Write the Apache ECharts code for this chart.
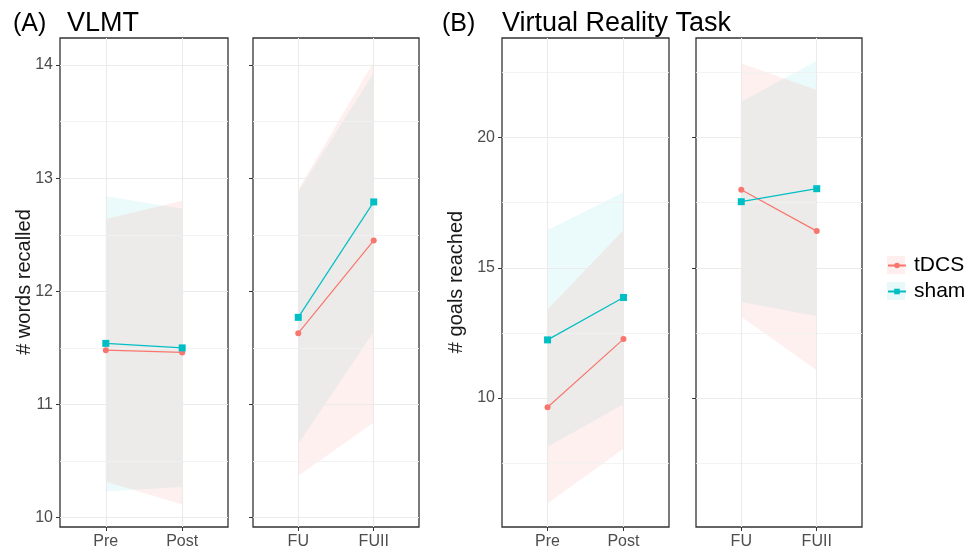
<!DOCTYPE html>
<html><head><meta charset="utf-8">
<script src="https://cdn.jsdelivr.net/npm/echarts@6/dist/echarts.min.js"></script>
<style>html,body{margin:0;padding:0;background:#fff}#c{width:971px;height:556px}</style>
</head><body><div id="c"></div>
<script>
// ---------- data ----------
const groups = ['tDCS', 'sham'];
const catsPrePost = ['Pre', 'Post'];
const catsFollowUp = ['FU', 'FUII'];
const vlmtTicks = [10, 11, 12, 13, 14];
const vlmtGridVals = [10, 10.5, 11, 11.5, 12, 12.5, 13, 13.5, 14];
const vrTicks = [10, 15, 20];
const vrGridVals = [7.5, 10, 12.5, 15, 17.5, 20, 22.5];

// VLMT, Pre / Post
const vlmtTdcsMean1 = [11.48, 11.46];
const vlmtTdcsLo1   = [10.32, 10.115];
const vlmtTdcsHi1   = [12.64, 12.80];
const vlmtShamMean1 = [11.54, 11.50];
const vlmtShamLo1   = [10.23, 10.27];
const vlmtShamHi1   = [12.84, 12.73];
// VLMT, FU / FUII
const vlmtTdcsMean2 = [11.63, 12.45];
const vlmtTdcsLo2   = [10.37, 10.84];
const vlmtTdcsHi2   = [12.90, 14.03];
const vlmtShamMean2 = [11.77, 12.79];
const vlmtShamLo2   = [10.65, 11.64];
const vlmtShamHi2   = [12.88, 13.93];
// Virtual Reality Task, Pre / Post
const vrTdcsMean1 = [9.64, 12.26];
const vrTdcsLo1   = [5.94, 8.05];
const vrTdcsHi1   = [13.40, 16.45];
const vrShamMean1 = [12.23, 13.86];
const vrShamLo1   = [8.12, 9.76];
const vrShamHi1   = [16.45, 17.90];
// Virtual Reality Task, FU / FUII
const vrTdcsMean2 = [18.00, 16.41];
const vrTdcsLo2   = [13.12, 11.06];
const vrTdcsHi2   = [22.86, 21.83];
const vrShamMean2 = [17.54, 18.04];
const vrShamLo2   = [13.69, 13.14];
const vrShamHi2   = [21.38, 22.96];

// ---------- layout / style ----------
const FONT = '"Liberation Sans", Arial, Helvetica, sans-serif';
const COL = { tDCS: '#F8766D', sham: '#00BFC4' };
const FILL = { tDCS: 'rgba(248,118,109,0.11)', sham: 'rgba(0,191,196,0.08)' };
const SYM = { tDCS: 'circle', sham: 'rect' };
const SYMSIZE = { tDCS: 6, sham: 7 };
const gridBoxes = [
  { left: 60, top: 38, width: 168, height: 489 },
  { left: 253, top: 38, width: 166, height: 489 },
  { left: 502, top: 38, width: 167, height: 489 },
  { left: 696, top: 38, width: 166, height: 489 }
];
const vlmtRange = [9.917, 14.239];
const vrRange = [5.04, 23.83];

const panels = [
  { cats: catsPrePost, range: vlmtRange, ticks: vlmtTicks, gridVals: vlmtGridVals, showY: true,
    d: { tDCS: [vlmtTdcsMean1, vlmtTdcsLo1, vlmtTdcsHi1], sham: [vlmtShamMean1, vlmtShamLo1, vlmtShamHi1] } },
  { cats: catsFollowUp, range: vlmtRange, ticks: vlmtTicks, gridVals: vlmtGridVals, showY: false,
    d: { tDCS: [vlmtTdcsMean2, vlmtTdcsLo2, vlmtTdcsHi2], sham: [vlmtShamMean2, vlmtShamLo2, vlmtShamHi2] } },
  { cats: catsPrePost, range: vrRange, ticks: vrTicks, gridVals: vrGridVals, showY: true,
    d: { tDCS: [vrTdcsMean1, vrTdcsLo1, vrTdcsHi1], sham: [vrShamMean1, vrShamLo1, vrShamHi1] } },
  { cats: catsFollowUp, range: vrRange, ticks: vrTicks, gridVals: vrGridVals, showY: false,
    d: { tDCS: [vrTdcsMean2, vrTdcsLo2, vrTdcsHi2], sham: [vrShamMean2, vrShamLo2, vrShamHi2] } }
];

const grid = [], xAxis = [], yAxis = [], series = [];
panels.forEach((p, i) => {
  grid.push(Object.assign({ show: true, borderColor: '#333', borderWidth: 1.3, backgroundColor: 'transparent' }, gridBoxes[i]));
  xAxis.push({
    type: 'value', gridIndex: i, min: 0.4, max: 2.6,
    axisLine: { show: false }, splitLine: { show: false },
    axisTick: { show: true, customValues: [1, 2], length: 4, lineStyle: { color: '#333', width: 1 } },
    axisLabel: { customValues: [1, 2], formatter: v => p.cats[Math.round(v) - 1] || '',
      fontSize: 16, color: '#4D4D4D', fontFamily: FONT, margin: 7 }
  });
  yAxis.push({
    type: 'value', gridIndex: i, min: p.range[0], max: p.range[1],
    axisLine: { show: false }, splitLine: { show: false },
    axisTick: { show: true, customValues: p.ticks, length: 4, lineStyle: { color: '#333', width: 1 } },
    axisLabel: { show: p.showY, customValues: p.ticks, fontSize: 16, color: '#4D4D4D', fontFamily: FONT, margin: 7 }
  });
  // grid lines
  const ml = [];
  p.gridVals.forEach(v => {
    const major = p.ticks.indexOf(v) >= 0;
    ml.push({ yAxis: v, lineStyle: { color: major ? '#EBEBEB' : '#F2F2F2', width: major ? 1.1 : 0.9, type: 'solid' } });
  });
  [1, 2].forEach(v => ml.push({ xAxis: v, lineStyle: { color: '#EBEBEB', width: 1.1, type: 'solid' } }));
  series.push({
    type: 'line', xAxisIndex: i, yAxisIndex: i, data: [], z: 1, silent: true,
    markLine: { silent: true, symbol: ['none', 'none'], label: { show: false }, animation: false, data: ml }
  });
  // ribbons (confidence bands), drawn as polygons through the axes' scales
  ['sham', 'tDCS'].forEach(g => {
    const lo = p.d[g][1], hi = p.d[g][2];
    series.push({
      type: 'custom', xAxisIndex: i, yAxisIndex: i, silent: true, z: 2,
      encode: { x: 0, y: [1, 2] },
      data: [[1, lo[0], hi[0]], [2, lo[1], hi[1]]],
      renderItem: (params, api) => {
        if (params.dataIndexInside !== 0) return null;
        const pts = [api.coord([1, lo[0]]), api.coord([2, lo[1]]), api.coord([2, hi[1]]), api.coord([1, hi[0]])];
        return { type: 'polygon', shape: { points: pts }, style: { fill: FILL[g], stroke: null } };
      }
    });
  });
  // means
  groups.forEach(g => {
    const m = p.d[g][0];
    series.push({
      name: g, type: 'line', xAxisIndex: i, yAxisIndex: i, z: 5,
      symbol: SYM[g], symbolSize: SYMSIZE[g], showSymbol: true,
      itemStyle: { color: COL[g] }, lineStyle: { color: COL[g], width: 1.2 },
      data: [[1, m[0]], [2, m[1]]]
    });
  });
});

function txt(x, y, s, size) {
  return {
    type: 'text', x: x, y: y, silent: true,
    style: { text: s, fontSize: size, fontFamily: FONT, fill: '#000',
      align: 'left', verticalAlign: 'middle', textAlign: 'left', textVerticalAlign: 'middle' }
  };
}
const yTitle = (x, s) => ({
  type: 'text', x: x, y: 282, rotation: Math.PI / 2, silent: true,
  style: { text: s, fontSize: 20, fontFamily: FONT, fill: '#1A1A1A',
    align: 'center', verticalAlign: 'middle', textAlign: 'center', textVerticalAlign: 'middle' }
});

const chart = echarts.init(document.getElementById('c'), null, { renderer: 'canvas' });
chart.setOption({
  animation: false,
  backgroundColor: '#fff',
  grid, xAxis, yAxis, series,
  legend: {
    data: groups, orient: 'vertical', left: 887, top: 255, padding: 0,
    itemWidth: 18, itemHeight: 7, itemGap: 5,
    textStyle: { fontSize: 21, color: '#000', fontFamily: FONT, padding: [0, 0, 0, 3] }
  },
  graphic: [
    { type: 'rect', shape: { x: 887, y: 256, width: 18, height: 18 }, style: { fill: 'rgba(248,118,109,0.12)' }, z: -1, silent: true },
    { type: 'rect', shape: { x: 887, y: 282, width: 18, height: 18 }, style: { fill: 'rgba(0,191,196,0.09)' }, z: -1, silent: true },
    txt(13, 24, '(A)', 25),
    txt(67, 24, 'VLMT', 27),
    txt(442, 24, '(B)', 25),
    txt(502, 24, 'Virtual Reality Task', 27),
    yTitle(24, '# words recalled'),
    yTitle(456, '# goals reached')
  ]
});
</script></body></html>
